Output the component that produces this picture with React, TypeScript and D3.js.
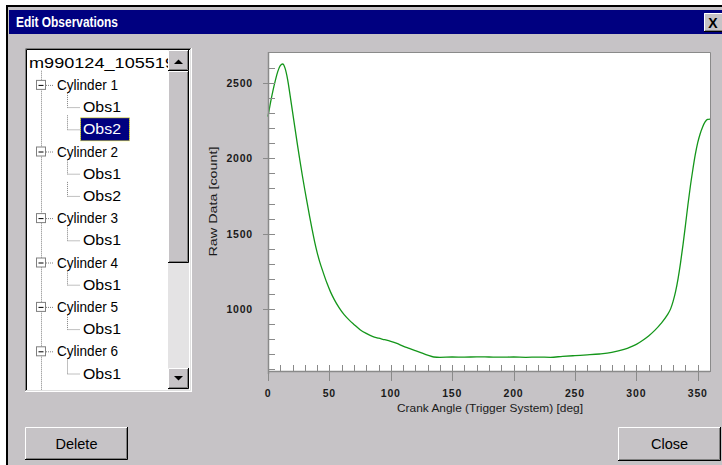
import * as d3 from "d3";

// crank angle [deg] and raw counts
const angles = [
  0, 2, 4, 6, 8, 10, 12, 14, 16, 18, 20, 22, 24, 26, 28, 30, 32, 34, 36, 38,
  40, 42, 45, 48, 51, 54, 58, 62, 66, 70, 75, 80, 85, 90, 95, 100, 105, 110,
  115, 120, 125, 130, 135, 140, 150, 160, 170, 180, 190, 200, 210, 220, 230,
  240, 250, 260, 270, 280, 290, 295, 300, 305, 310, 315, 320, 325, 328, 330,
  332, 334, 336, 338, 340, 342, 344, 346, 348, 350, 352, 354, 356, 358, 360,
];
const rawCounts = [
  2278, 2370, 2450, 2520, 2580, 2618, 2629, 2598, 2525, 2420, 2310, 2200,
  2090, 1985, 1885, 1790, 1700, 1610, 1525, 1445, 1375, 1315, 1240, 1170,
  1110, 1060, 1005, 960, 925, 895, 860, 835, 815, 803, 793, 782, 768, 750,
  735, 720, 705, 690, 678, 676, 678, 677, 679, 678, 677, 678, 676, 677, 676,
  682, 687, 692, 698, 708, 728, 743, 762, 788, 818, 855, 900, 955, 1000, 1050,
  1115, 1200, 1305, 1425, 1555, 1690, 1815, 1925, 2025, 2105, 2165, 2210,
  2243, 2260, 2262,
];

const xMajor = [0, 50, 100, 150, 200, 250, 300, 350];
const xMinor = d3.range(10, 361, 10).filter((v) => v % 50 !== 0);
const yMajor = [1000, 1500, 2000, 2500];
const yMinor = d3.range(600, 2700, 100).filter((v) => v % 500 !== 0);

const cylinders = ["Cylinder 1", "Cylinder 2", "Cylinder 3", "Cylinder 4", "Cylinder 5", "Cylinder 6", "Cylinder 7"];
const observations = [["Obs1", "Obs2"], ["Obs1", "Obs2"], ["Obs1"], ["Obs1"], ["Obs1"], ["Obs1"], []];

const GRAY = "#c6c3c6";
const DARK = "#808080";
const FONT = "'Liberation Sans', Arial, sans-serif";

function Button3D({ x, y, w, h, label }) {
  return (
    <g>
      <rect x={x} y={y} width={w} height={h} fill={GRAY} />
      <path d={`M${x + 0.5},${y + h - 1} V${y + 0.5} H${x + w - 1}`} stroke="#fff" fill="none" />
      <path d={`M${x + 1},${y + h - 1.5} H${x + w - 1.5} V${y + 1}`} stroke={DARK} fill="none" />
      <path d={`M${x},${y + h - 0.5} H${x + w - 0.5} V${y}`} stroke="#000" fill="none" />
      <text x={x + w / 2} y={y + h / 2 + 5} textAnchor="middle" fontSize={14.5} fontFamily={FONT} fill="#000">
        {label}
      </text>
    </g>
  );
}

function Tree() {
  const rowY = (i) => 62.7 + i * 22.2;
  const rows = [];
  let i = 1;
  cylinders.forEach((c, ci) => {
    rows.push({ kind: "cyl", label: c, row: i++ });
    observations[ci].forEach((o, oi) => {
      rows.push({ kind: "obs", label: o, row: i++, selected: ci === 0 && oi === 1 });
    });
  });
  const dot = { stroke: DARK, strokeDasharray: "1,1", fill: "none" };
  return (
    <g>
      <defs>
        <clipPath id="treeClip">
          <rect x={27} y={50} width={141} height={341} />
        </clipPath>
      </defs>
      <rect x={25} y={48} width={167} height={344} fill="#fff" />
      <g clipPath="url(#treeClip)" fontFamily={FONT} fontSize={15}>
        <text x={29} y={rowY(0) + 5} textLength={146} lengthAdjust="spacingAndGlyphs">
          m990124_105519
        </text>
        <line x1={41.5} x2={41.5} y1={rowY(0) + 8} y2={400} {...dot} />
        {rows.map((r) => {
          const cy = rowY(r.row);
          if (r.kind === "cyl") {
            return (
              <g key={"c" + r.row}>
                <rect x={36.5} y={cy - 4.5} width={9} height={9} fill="#fff" stroke={DARK} />
                <line x1={38.5} x2={43.5} y1={cy + 0.5} y2={cy + 0.5} stroke="#000" />
                <line x1={46} x2={53} y1={cy + 0.5} y2={cy + 0.5} {...dot} />
                <text x={57} y={cy + 5} textLength={61} lengthAdjust="spacingAndGlyphs">
                  {r.label}
                </text>
              </g>
            );
          }
          return (
            <g key={"o" + r.row}>
              <line x1={67.5} x2={67.5} y1={cy - 14} y2={cy + 0.5} {...dot} />
              <line x1={67.5} x2={80} y1={cy + 0.5} y2={cy + 0.5} {...dot} />
              {r.selected && (
                <rect x={80.5} y={cy - 11.5} width={49} height={23} fill="#000080" stroke="#ffff00" strokeDasharray="1,1" />
              )}
              <text x={83} y={cy + 5} textLength={38} lengthAdjust="spacingAndGlyphs" fill={r.selected ? "#fff" : "#000"}>
                {r.label}
              </text>
            </g>
          );
        })}
      </g>
      {/* scrollbar */}
      <rect x={168} y={50} width={21} height={340} fill="#e4e3e4" />
      <Button3D x={168} y={50} w={21} h={21} label="" />
      <path d="M174,64 L183,64 L178.5,59.5 Z" fill="#000" />
      <Button3D x={168} y={71} w={21} h={192} label="" />
      <Button3D x={168} y={368} w={21} h={21} label="" />
      <path d="M174,376 L183,376 L178.5,380.5 Z" fill="#000" />
      {/* sunken border */}
      <path d="M25.5,391 V48.5 H191" stroke={DARK} fill="none" />
      <path d="M26.5,390 V49.5 H190" stroke="#000" fill="none" />
      <path d="M25,391.5 H191.5 V48" stroke="#fff" fill="none" />
      <path d="M26,390.5 H190.5 V49" stroke="#dfdfdf" fill="none" />
    </g>
  );
}

function Plot() {
  const left = 268, right = 710, top = 52, bottom = 372;
  const x = d3.scaleLinear().domain([0, 360]).range([left, right]);
  const y = d3.scaleLinear().domain([578, 2709]).range([bottom, top]);
  const line = d3
    .line<number>()
    .x((d) => x(angles[d]))
    .y((d) => y(rawCounts[d]))
    .curve(d3.curveMonotoneX);
  const axisColor = "#8a8a8a";
  const tickFont = { fontFamily: FONT, fontSize: 10.5, fontWeight: "bold", letterSpacing: 0.8, fill: "#1a1a1a" };
  return (
    <g>
      <rect x={left} y={top} width={right - left} height={bottom - top} fill="#fff" />
      <path d={`M${left},${top + 0.5} H${right + 0.5} V${bottom}`} stroke={axisColor} fill="none" />
      <path d={line(d3.range(angles.length))} stroke="#14961a" strokeWidth={1.3} fill="none" />
      {/* y axis */}
      <line x1={left + 0.5} x2={left + 0.5} y1={top} y2={bottom + 2} stroke={axisColor} strokeWidth={1.5} />
      {yMinor.map((v) => (
        <line key={v} x1={left} x2={left + 7} y1={Math.round(y(v)) + 0.5} y2={Math.round(y(v)) + 0.5} stroke={axisColor} />
      ))}
      {yMajor.map((v) => (
        <g key={v}>
          <line x1={left - 5} x2={left + 7} y1={Math.round(y(v)) + 0.5} y2={Math.round(y(v)) + 0.5} stroke={axisColor} />
          <text x={253} y={y(v) + 4} textAnchor="end" {...tickFont}>
            {v}
          </text>
        </g>
      ))}
      {/* x axis */}
      <line x1={left} x2={right} y1={bottom - 0.5} y2={bottom - 0.5} stroke={axisColor} strokeWidth={1.5} />
      {xMinor.map((v) => (
        <line key={v} x1={Math.round(x(v)) + 0.5} x2={Math.round(x(v)) + 0.5} y1={bottom - 7} y2={bottom} stroke={axisColor} />
      ))}
      {xMajor.map((v) => (
        <g key={v}>
          <line x1={Math.round(x(v)) + 0.5} x2={Math.round(x(v)) + 0.5} y1={bottom - 7} y2={bottom + 9} stroke={axisColor} />
          <text x={x(v)} y={397} textAnchor="middle" {...tickFont}>
            {v}
          </text>
        </g>
      ))}
      <text x={490} y={412} textAnchor="middle" fontFamily={FONT} fontSize={11.5} fill="#1a1a1a" textLength={186} lengthAdjust="spacingAndGlyphs">
        Crank Angle (Trigger System) [deg]
      </text>
      <text
        transform="translate(217,201.5) rotate(-90)"
        textAnchor="middle"
        fontFamily={FONT}
        fontSize={11.5}
        fill="#1a1a1a"
        textLength={110}
        lengthAdjust="spacingAndGlyphs"
      >
        Raw Data [count]
      </text>
    </g>
  );
}

export default function App() {
  return (
    <svg width={722} height={465} style={{ position: "fixed", left: 0, top: 0 }}>
      <rect width={722} height={465} fill="#fff" />
      <rect x={6} y={5} width={716} height={460} fill="#000" />
      <rect x={8} y={7} width={714} height={458} fill={GRAY} />
      <rect x={9} y={10} width={713} height={24} fill="#000080" />
      <text x={16} y={27} fill="#fff" fontFamily={FONT} fontWeight="bold" fontSize={14} textLength={102} lengthAdjust="spacingAndGlyphs">
        Edit Observations
      </text>
      <Button3D x={704} y={13} w={20} h={19} label="" />
      <text x={713} y={28} textAnchor="middle" fontFamily={FONT} fontWeight="bold" fontSize={14}>
        X
      </text>
      <Tree />
      <Plot />
      <Button3D x={25} y={427} w={103} h={33} label="Delete" />
      <Button3D x={618} y={427} w={103} h={34} label="Close" />
    </svg>
  );
}
